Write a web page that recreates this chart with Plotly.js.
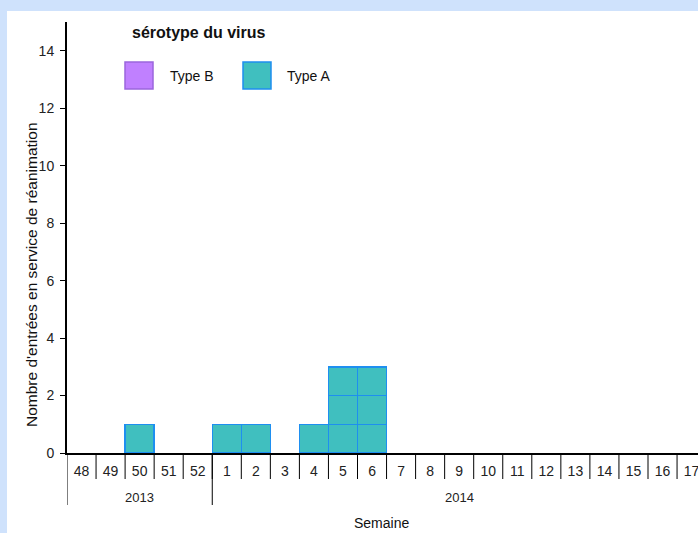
<!DOCTYPE html>
<html>
<head>
<meta charset="utf-8">
<script src="https://cdn.plot.ly/plotly-3.0.1.min.js"></script>
<style>
  html, body { margin: 0; padding: 0; overflow: hidden; background: #cfe2fc; }
  #chart { width: 698px; height: 533px; }
</style>
</head>
<body>
<div id="chart"></div>
<script>
// données
var semaines = ['48', '49', '50', '51', '52', '1', '2', '3', '4', '5', '6', '7', '8',
  '9', '10', '11', '12', '13', '14', '15', '16', '17'];
var annees = ['2013', '2014'];
var semainesParAnnee = [5, 17];
var typeB = [0, 0, 0, 0, 0, 0, 0, 0, 0, 0, 0, 0, 0, 0, 0, 0, 0, 0, 0, 0, 0, 0];
var typeA = [0, 0, 1, 0, 0, 1, 1, 0, 1, 3, 3, 0, 0, 0, 0, 0, 0, 0, 0, 0, 0, 0];

var couleurs = {
  'Type B': { fill: '#c080ff', line: '#9a66dd' },
  'Type A': { fill: '#40bfbf', line: '#1e8ff0' }
};

// pixels -> coordonnées papier
var L = 67, R = 698, T = 22, B = 453;
function px(x) { return (x - L) / (R - L); }
function py(y) { return (B - y) / (B - T); }

// une case par cas : on empile des blocs de hauteur 1
var traces = [];
[['Type B', typeB], ['Type A', typeA]].forEach(function (serie) {
  var nom = serie[0], valeurs = serie[1];
  var max = Math.max.apply(null, valeurs);
  for (var k = 1; k <= max; k++) {
    traces.push({
      type: 'bar',
      x: semaines,
      y: valeurs.map(function (v) { return v >= k ? 1 : null; }),
      name: nom,
      showlegend: false,
      hoverinfo: 'skip',
      marker: { color: couleurs[nom].fill, line: { color: couleurs[nom].line, width: 1.5 } }
    });
  }
});

var shapes = [];
// fond blanc
shapes.push({ type: 'rect', xref: 'paper', yref: 'paper', layer: 'below',
  x0: px(7), x1: px(720), y0: py(11), y1: py(540),
  fillcolor: 'white', line: { width: 0 } });

// séparateurs des semaines
for (var i = 1; i < semaines.length; i++) {
  shapes.push({ type: 'line', xref: 'x', yref: 'paper',
    x0: i - 0.5, x1: i - 0.5, y0: 0, y1: py(479),
    line: { color: 'black', width: 1 } });
}

function texte(x, y, t, size, extra) {
  var a = { xref: 'paper', yref: 'paper', x: px(x), y: py(y), xanchor: 'center', yanchor: 'middle',
    text: t, showarrow: false, font: { size: size, color: '#111' } };
  for (var k in extra) a[k] = extra[k];
  return a;
}

// séparateurs des années + étiquettes
var annotations = [];
var debut = 0;
annees.forEach(function (an, j) {
  var n = semainesParAnnee[j];
  shapes.push({ type: 'line', xref: 'x', yref: 'paper',
    x0: debut - 0.5, x1: debut - 0.5, y0: 0, y1: py(505),
    line: { color: 'black', width: 1 } });
  annotations.push({ xref: 'x', yref: 'paper', x: debut + (n - 1) / 2, y: py(497),
    xanchor: 'center', yanchor: 'middle',
    text: an, showarrow: false, font: { size: 13, color: '#222' } });
  debut += n;
});
shapes.push({ type: 'line', xref: 'x', yref: 'paper',
  x0: debut - 0.5, x1: debut - 0.5, y0: 0, y1: py(505),
  line: { color: 'black', width: 1 } });

// légende
annotations.push(texte(130, 33, '<b>sérotype du virus</b>', 16, { xanchor: 'left' }));
[['Type B', 125, 168], ['Type A', 243, 285]].forEach(function (e) {
  var c = couleurs[e[0]];
  shapes.push({ type: 'rect', xref: 'paper', yref: 'paper',
    x0: px(e[1]), x1: px(e[1] + 28), y0: py(62), y1: py(89),
    fillcolor: c.fill, line: { color: c.line, width: 1.5 } });
  annotations.push(texte(e[2], 75.5, e[0], 14, { xanchor: 'left' }));
});

// titres des axes
annotations.push(texte(31, 275, "Nombre d'entrées en service de réanimation", 15.5, { textangle: -90 }));
annotations.push(texte(381, 523, 'Semaine', 14));

var layout = {
  width: 698, height: 533,
  margin: { l: L, r: 698 - R, t: T, b: 533 - B, pad: 0 },
  paper_bgcolor: '#cfe2fc',
  plot_bgcolor: 'white',
  font: { family: '"Liberation Sans", Arial, sans-serif', color: '#222' },
  barmode: 'stack',
  bargap: 0,
  showlegend: false,
  xaxis: {
    type: 'category',
    categoryorder: 'array', categoryarray: semaines,
    range: [-0.5, -0.5 + (R - L) / 29.05],
    showline: true, linecolor: 'black', linewidth: 2,
    ticks: '', ticklabelstandoff: 4,
    tickfont: { size: 14, color: '#222' },
    showgrid: false, zeroline: false, fixedrange: true
  },
  yaxis: {
    range: [0, 15],
    tickvals: [0, 2, 4, 6, 8, 10, 12, 14],
    ticks: 'outside', ticklen: 5, tickcolor: 'black', tickwidth: 1,
    ticklabelstandoff: 3,
    showline: true, linecolor: 'black', linewidth: 2,
    tickfont: { size: 14, color: '#222' },
    showgrid: false, zeroline: false, fixedrange: true
  },
  shapes: shapes,
  annotations: annotations
};

Plotly.newPlot('chart', traces, layout, { displayModeBar: false, staticPlot: true });
</script>
</body>
</html>
